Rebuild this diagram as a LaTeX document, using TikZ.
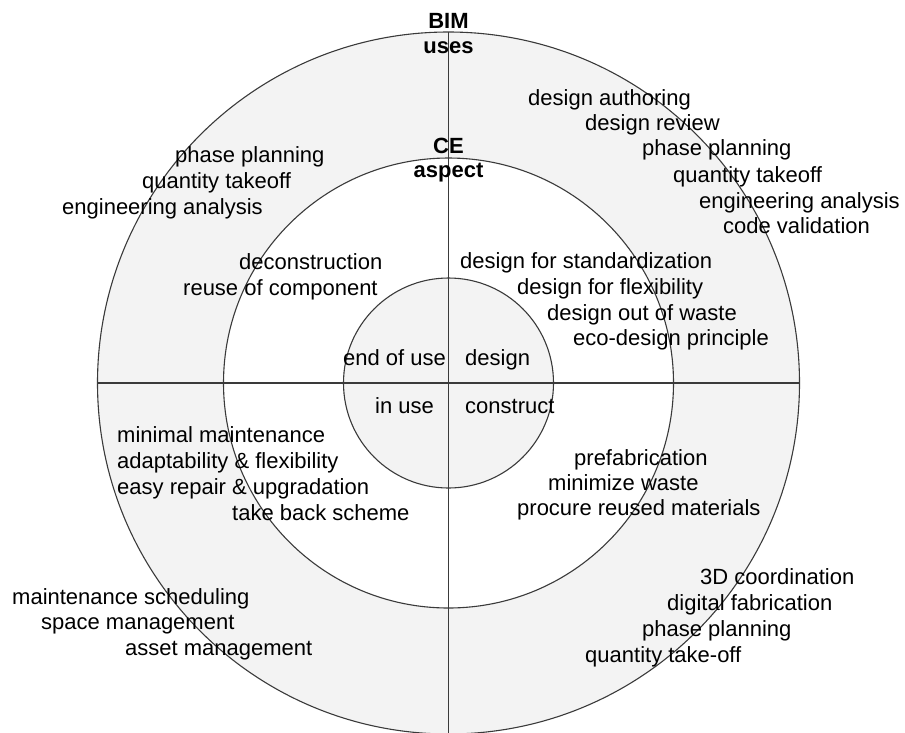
\documentclass[tikz,border=0pt]{standalone}
\usepackage{fontspec}
\setmainfont{Liberation Sans}
\definecolor{ringgray}{HTML}{F3F3F3}
\definecolor{ringline}{HTML}{3A3A3A}

\begin{document}
\begin{tikzpicture}[x=1pt,y=-1pt,
		txt/.style={anchor=base west, inner sep=0pt, font=\fontsize{22}{26}\selectfont},
		head/.style={anchor=base, inner sep=0pt, font=\fontsize{22}{26}\selectfont\bfseries},
		ring/.style={draw=ringline, line width=1.1pt}]
			\useasboundingbox (0,0) rectangle (905,732);
			\coordinate (c) at (448.5,383);
			\coordinate (w) at (97.5,383);
			\coordinate (e) at (799.5,383);
			\coordinate (n) at (448.5,32);
			\coordinate (s) at (448.5,734);
			% rings
			\filldraw[ring, fill=ringgray] (c) circle (351pt);
			\filldraw[ring, fill=white] (c) circle (225pt);
			\filldraw[ring, fill=ringgray] (c) circle (105pt);
			\draw[ring] (w) -- (e);
			\draw[ring] (n) -- (s);
			% headings
			\node[head] (bim) at (448.5,28) {BIM};
			\node[head] (uses) at (448.5,53) {uses};
			\node[head] (ce) at (448.5,153) {CE};
			\node[head] (aspect) at (448.5,177) {aspect};
			% inner circle
			\node[txt] (eou) at (343,365) {end of use};
			\node[txt] (des) at (465,365) {design};
			\node[txt] (inuse) at (375,413) {in use};
			\node[txt] (con) at (465,413) {construct};
			% CE aspect
			\node[txt] (ce1) at (239,269) {deconstruction};
			\node[txt] (ce2) at (183,295) {reuse of component};
			\node[txt] (ce3) at (460,268) {design for standardization};
			\node[txt] (ce4) at (517,294) {design for flexibility};
			\node[txt] (ce5) at (547,320) {design out of waste};
			\node[txt] (ce6) at (573,345) {eco-design principle};
			\node[txt] (ce7) at (117,442) {minimal maintenance};
			\node[txt] (ce8) at (117,468) {adaptability \& flexibility};
			\node[txt] (ce9) at (117,494) {easy repair \& upgradation};
			\node[txt] (ce10) at (232,520) {take back scheme};
			\node[txt] (ce11) at (574,465) {prefabrication};
			\node[txt] (ce12) at (548,490) {minimize waste};
			\node[txt] (ce13) at (517,515) {procure reused materials};
			% BIM uses
			\node[txt] (bim1) at (528,105) {design authoring};
			\node[txt] (bim2) at (585,130) {design review};
			\node[txt] (bim3) at (642,155) {phase planning};
			\node[txt] (bim4) at (673,182) {quantity takeoff};
			\node[txt] (bim5) at (699,208) {engineering analysis};
			\node[txt] (bim6) at (723,233) {code validation};
			\node[txt] (bim7) at (175,162) {phase planning};
			\node[txt] (bim8) at (142,188) {quantity takeoff};
			\node[txt] (bim9) at (62,214) {engineering analysis};
			\node[txt] (bim10) at (12,604) {maintenance scheduling};
			\node[txt] (bim11) at (41,629) {space management};
			\node[txt] (bim12) at (125,655) {asset management};
			\node[txt] (bim13) at (700,584) {3D coordination};
			\node[txt] (bim14) at (667,610) {digital fabrication};
			\node[txt] (bim15) at (642,636) {phase planning};
			\node[txt] (bim16) at (585,662) {quantity take-off};
\end{tikzpicture}
\end{document}
